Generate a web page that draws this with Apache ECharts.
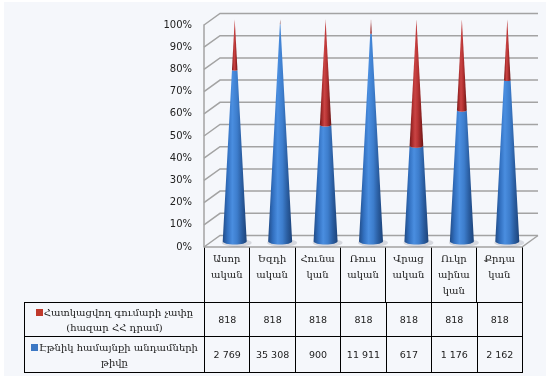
<!DOCTYPE html>
<html>
<head>
<meta charset="utf-8">
<script src="https://cdn.jsdelivr.net/npm/echarts@6/dist/echarts.min.js"></script>
<style>
  html, body { margin: 0; padding: 0; background: #fff; }
  #wrap { position: relative; width: 546px; height: 376px; overflow: hidden; }
  #bg { position: absolute; left: 4px; top: 2px; right: 0; bottom: 0; background: #f5f7fb; }
  #chart { position: absolute; left: 0; top: 0; width: 546px; height: 376px; }
  #tbl { position: absolute; left: 24px; top: 302px; border-collapse: collapse; table-layout: fixed; }
  #tbl td { border: 1px solid #000; padding: 0; text-align: center; vertical-align: middle;
            font: 9.5px 'DejaVu Sans', sans-serif; color: #222; }
  #tbl td.name { font: 10px 'DejaVu Serif', 'DejaVu Sans', serif; line-height: 15px; }
  .sw { display: inline-block; width: 7px; height: 7px; margin-right: 1px; }
</style>
</head>
<body>
<div id="wrap">
  <div id="bg"></div>
  <div id="chart"></div>
  <table id="tbl"></table>
</div>
<script>
// categories (ethnic communities) and the two series shown in the data table
var categories = ['Ասոր\nական', 'Եզդի\nական', 'Հունա\nկան', 'Ռուս\nական', 'Վրաց\nական', 'Ուկր\nաինա\nկան', 'Քրդա\nկան'];
var seriesNames = ['Հատկացվող գումարի չափը\n(հազար ՀՀ դրամ)', 'Էթնիկ համայնքի անդամների\nթիվը'];
var allocated = [818, 818, 818, 818, 818, 818, 818];
var members = [2769, 35308, 900, 11911, 617, 1176, 2162];
var yTicks = [0, 10, 20, 30, 40, 50, 60, 70, 80, 90, 100];

var redColor = '#c0392b';
var blueColor = '#3c78c4';
var GRID = { left: 204, right: 24, top: 25, bottom: 129 };
var DEPTH = [16, -11.5];   // offset of the back wall
var R = 12;                // cone base half width

// 100% stacked: share of each series per category
var blueShare = members.map(function (m, i) { return m / (m + allocated[i]) * 100; });
var blueData = blueShare.map(function (p, i) { return [i, 0, p]; });
var redData = blueShare.map(function (p, i) { return [i, p, 100]; });

function fmt(n) { return String(n).replace(/\B(?=(\d{3})+(?!\d))/g, ' '); }

function grad(stops) {
  return { type: 'linear', x: 0, y: 0, x2: 1, y2: 0,
    colorStops: stops.map(function (c, k) { return { offset: k / (stops.length - 1), color: c }; }) };
}
var blueFill = grad(['#214b86', '#3270c0', '#4a8ee0', '#3d7dcc', '#2a5da0', '#1d4379']);
var redFill = grad(['#741a1a', '#a82b2b', '#c94444', '#b83434', '#932424', '#6a1515']);

function coneItem(fill) {
  return function (params, api) {
    var i = api.value(0);
    var b = api.coord([i, 0]);
    var t = api.coord([i, 100]);
    var cx = b[0] + DEPTH[0] / 2;
    var baseY = b[1] + DEPTH[1] / 2;
    var tipY = t[1] + DEPTH[1] / 2;
    var y0 = api.coord([i, api.value(1)])[1] + DEPTH[1] / 2;
    var y1 = api.coord([i, api.value(2)])[1] + DEPTH[1] / 2;
    function hw(y) { return R * (y - tipY) / (baseY - tipY); }
    var w0 = hw(y0), w1 = hw(y1);
    var pts = [], a, k, n = 16;
    for (k = 0; k <= n; k++) {           // lower arc at top edge, left -> right
      a = Math.PI - Math.PI * k / n;
      pts.push([cx + w1 * Math.cos(a), y1 + w1 * 0.28 * Math.sin(a)]);
    }
    for (k = 0; k <= n; k++) {           // lower arc at bottom edge, right -> left
      a = Math.PI * k / n;
      pts.push([cx + w0 * Math.cos(a), y0 + w0 * 0.28 * Math.sin(a)]);
    }
    var children = [];
    if (api.value(1) === 0) {
      var sh = [];
      for (k = 0; k < 24; k++) {
        a = Math.PI * 2 * k / 24;
        sh.push([cx + 2 + (R + 3) * Math.cos(a), baseY + 1.5 + 4 * Math.sin(a)]);
      }
      children.push({ type: 'polygon', shape: { points: sh }, style: { fill: 'rgba(80,80,100,0.18)' } });
    }
    children.push({ type: 'polygon', shape: { points: pts }, style: { fill: fill } });
    return { type: 'group', children: children };
  };
}

function wallItem(params, api) {
  var v = api.value(1);
  var cs = params.coordSys;
  var y = api.coord([0, v])[1];
  var x0 = cs.x, x1 = cs.x + cs.width;
  var line = { stroke: '#a3a3a3', lineWidth: 1.5, fill: null };
  var children = [{ type: 'polyline',
    shape: { points: [[x0, y], [x0 + DEPTH[0], y + DEPTH[1]], [x1 + DEPTH[0], y + DEPTH[1]]] }, style: line }];
  if (v === 0) {
    children.push({ type: 'polyline',
      shape: { points: [[x0, y], [x1, y], [x1 + DEPTH[0], y + DEPTH[1]]] }, style: line });
  }
  return { type: 'group', children: children };
}

var chart = echarts.init(document.getElementById('chart'));
chart.setOption({
  animation: false,
  grid: GRID,
  xAxis: {
    type: 'category',
    data: categories,
    axisLine: { show: false },
    axisTick: { show: true, length: 55, interval: 0, lineStyle: { color: '#000', width: 1 } },
    axisLabel: { interval: 0, margin: 4, fontFamily: "'DejaVu Serif', 'DejaVu Sans', serif",
      fontSize: 10, lineHeight: 16, color: '#222', verticalAlign: 'top' }
  },
  yAxis: {
    type: 'value', min: 0, max: 100, interval: 10,
    axisLine: { show: true, lineStyle: { color: '#a3a3a3', width: 1.5 } },
    axisTick: { show: false },
    splitLine: { show: false },
    axisLabel: { formatter: '{value}%', margin: 12, fontFamily: 'DejaVu Sans', fontSize: 10, color: '#222' }
  },
  series: [
    { type: 'custom', name: 'wall', z: 1, silent: true, renderItem: wallItem,
      data: yTicks.map(function (v) { return [0, v]; }) },
    { type: 'custom', name: seriesNames[1], z: 2, renderItem: coneItem(blueFill), data: blueData },
    { type: 'custom', name: seriesNames[0], z: 3, renderItem: coneItem(redFill), data: redData }
  ]
});

// data table under the axis
var bw = (546 - GRID.left - GRID.right) / categories.length;
var html = '<colgroup><col style="width:' + (GRID.left - 24) + 'px">';
categories.forEach(function () { html += '<col style="width:' + bw + 'px">'; });
html += '</colgroup>';
[[seriesNames[0], redColor, allocated, 34], [seriesNames[1], blueColor, members, 36]].forEach(function (r) {
  html += '<tr style="height:' + r[3] + 'px"><td class="name"><span class="sw" style="background:' + r[1] + '"></span>' +
    r[0].replace('\n', '<br>') + '</td>';
  r[2].forEach(function (v) { html += '<td>' + fmt(v) + '</td>'; });
  html += '</tr>';
});
var tbl = document.getElementById('tbl');
tbl.innerHTML = html;
tbl.style.width = (GRID.left - 24 + bw * categories.length) + 'px';
</script>
</body>
</html>
